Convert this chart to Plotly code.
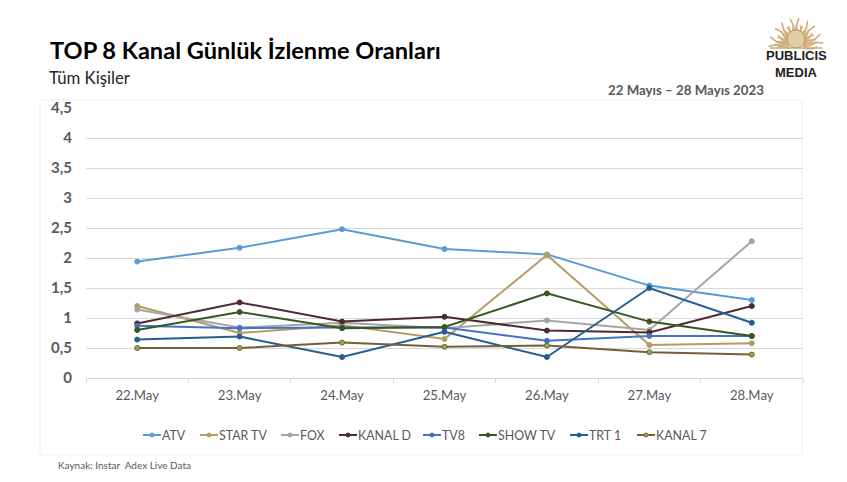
import math
import plotly.graph_objects as go

days = ["22.May", "23.May", "24.May", "25.May", "26.May", "27.May", "28.May"]
atv = [1.94, 2.17, 2.48, 2.15, 2.06, 1.54, 1.30]
star_tv = [1.20, 0.75, 0.88, 0.65, 2.05, 0.55, 0.58]
fox = [1.14, 0.84, 0.92, 0.83, 0.96, 0.80, 2.28]
kanal_d = [0.91, 1.26, 0.94, 1.02, 0.79, 0.76, 1.20]
tv8 = [0.87, 0.83, 0.84, 0.84, 0.62, 0.70, 0.70]
show_tv = [0.80, 1.10, 0.83, 0.85, 1.41, 0.94, 0.70]
trt_1 = [0.64, 0.69, 0.35, 0.77, 0.35, 1.50, 0.92]
kanal_7 = [0.50, 0.50, 0.59, 0.52, 0.54, 0.43, 0.39]
y_ticks = [0, 0.5, 1, 1.5, 2, 2.5, 3, 3.5, 4, 4.5]
y_labels = ["0", "0,5", "1", "1,5", "2", "2,5", "3", "3,5", "4", "4,5"]

W, H = 847, 482
L, R, T, B = 86, 803, 108, 378
FONT = "Lato, Carlito, Calibri, sans-serif"


def px(x):
    return (x - L) / (R - L)


def py(y):
    return (B - y) / (B - T)


series = [
    ("ATV", atv, "#5B9BD5", "#5B9BD5", 143),
    ("STAR TV", star_tv, "#B79B63", "#B79B63", 200),
    ("FOX", fox, "#A5A5A5", "#A5A5A5", 281),
    ("KANAL D", kanal_d, "#4F2A2F", "#4F2A2F", 339),
    ("TV8", tv8, "#4472C4", "#4472C4", 423),
    ("SHOW TV", show_tv, "#38571F", "#38571F", 479),
    ("TRT 1", trt_1, "#255E91", "#255E91", 570),
    ("KANAL 7", kanal_7, "#736038", "#8FAF55", 637),
]

fig = go.Figure()
for name, vals, col, mcol, _ in series:
    fig.add_trace(go.Scatter(
        x=days, y=vals, name=name, mode="lines+markers", showlegend=False,
        line=dict(color=col, width=2),
        marker=dict(color=mcol, size=5, symbol="circle", line=dict(color=col, width=1)),
    ))

shapes = [
    dict(type="rect", xref="paper", yref="paper", x0=px(40), x1=px(802), y0=py(100), y1=py(455),
         line=dict(color="#EFEFEF", width=1), fillcolor="rgba(0,0,0,0)", layer="below"),
    dict(type="line", xref="paper", yref="paper", x0=px(770), x1=px(822), y0=py(48), y1=py(48),
         line=dict(color="#C9A872", width=1.5)),
]

# decorative sun of the logo
cx, cy = 796, 48
for i in range(29):
    a = math.pi * (i + 0.5) / 29
    r0, r1 = 8, 30 if i % 3 == 1 else 23
    a2 = a + (0.22 if i % 2 else -0.22)
    sy = 1.0
    sx = 0.92
    path = "M {:.4f} {:.4f} Q {:.4f} {:.4f} {:.4f} {:.4f}".format(
        px(cx + sx * r0 * math.cos(a)), py(cy - sy * r0 * math.sin(a)),
        px(cx + sx * (r0 + r1) / 2 * math.cos(a2)), py(cy - sy * (r0 + r1) / 2 * math.sin(a2)),
        px(cx + sx * r1 * math.cos(a)), py(cy - sy * r1 * math.sin(a)),
    )
    shapes.append(dict(type="path", xref="paper", yref="paper", path=path,
                       line=dict(color="#CFAE7C", width=1.6)))
shapes.append(dict(type="circle", xref="paper", yref="paper",
                   x0=px(787), x1=px(805), y0=py(30), y1=py(48),
                   line=dict(color="#B8955F", width=1), fillcolor="#E2CDA8"))


def note(text, x, y, size, color, bold=False, anchor="left", family=FONT):
    return dict(text="<b>%s</b>" % text if bold else text, x=px(x), y=py(y),
                xref="paper", yref="paper", xanchor=anchor, yanchor="middle",
                showarrow=False, align="left", borderpad=0, borderwidth=0,
                font=dict(size=size, color=color, family=family))


annotations = [
    note("TOP 8 Kanal Günlük İzlenme Oranları", 50, 50, 23.6, "#000000", True),
    note("Tüm Kişiler", 49, 78, 16.8, "#262626"),
    note("22 Mayıs – 28 Mayıs 2023", 608, 90, 13.3, "#595959", True),
    note("Kaynak: Instar  Adex Live Data", 58, 465, 10, "#595959"),
    note("PUBLICIS", 796, 56, 13, "#222222", True, "center", "Liberation Sans"),
    note("MEDIA", 796, 72, 13, "#222222", True, "center", "Liberation Sans"),
]

# compact legend, built from the series names and colours
for name, _, col, mcol, lx in series:
    shapes.append(dict(type="line", xref="paper", yref="paper",
                       x0=px(lx), x1=px(lx + 18), y0=py(435), y1=py(435),
                       line=dict(color=col, width=2)))
    shapes.append(dict(type="circle", xref="paper", yref="paper",
                       x0=px(lx + 7), x1=px(lx + 11), y0=py(433), y1=py(437),
                       line=dict(color=col, width=1), fillcolor=mcol))
    annotations.append(note(name, lx + 19, 435, 12.4, "#595959"))

fig.update_layout(
    width=W, height=H, autosize=False,
    margin=dict(l=L, r=W - R, t=T, b=H - B, pad=0),
    paper_bgcolor="white", plot_bgcolor="white",
    font=dict(family=FONT, color="#595959"),
    shapes=shapes, annotations=annotations,
    hovermode=False, showlegend=False,
    xaxis=dict(type="category", tickson="boundaries", ticks="outside", ticklen=4,
               tickcolor="#D9D9D9", showgrid=False, showline=True, linecolor="#D9D9D9",
               tickfont=dict(size=13.2, color="#595959"), range=[-0.5, 6.5], fixedrange=True,
               ticklabelstandoff=5),
    yaxis=dict(range=[0, 4.5], tickvals=y_ticks, ticktext=y_labels, showgrid=True,
               gridcolor="#D9D9D9", gridwidth=1, zeroline=False, showline=False, ticks="",
               tickfont=dict(size=15, color="#595959", weight="bold"), fixedrange=True,
               ticklabelstandoff=13),
)

fig.write_html("out.html", config={"displayModeBar": False},
               post_script="document.body.style.margin='0';")
